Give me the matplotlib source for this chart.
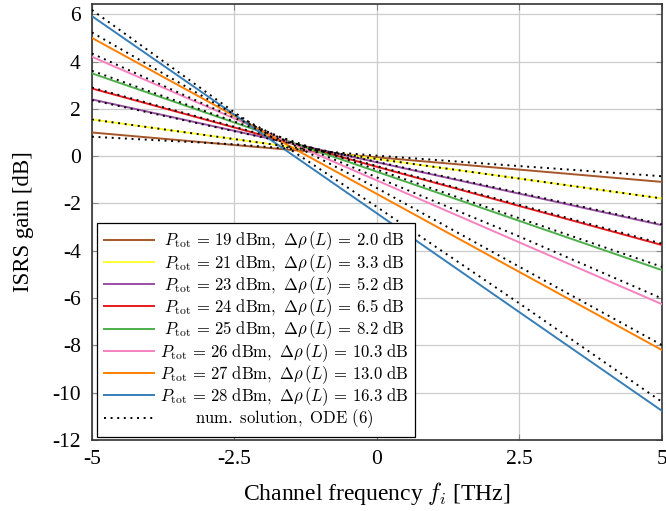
import matplotlib
matplotlib.use('Agg')
import matplotlib.pyplot as plt
import matplotlib as mpl

mpl.rcParams['font.family'] = 'serif'
mpl.rcParams['font.serif'] = ['Liberation Serif', 'DejaVu Serif']
mpl.rcParams['mathtext.fontset'] = 'cm'
mpl.rcParams['axes.unicode_minus'] = False

# channel frequency [THz]
freq = [-5, -2.5, 0, 2.5, 5]

# total launch power [dBm] and power tilt [dB] per curve
p_tot = [19, 21, 23, 24, 25, 26, 27, 28]
delta_rho = ['2.0', '3.3', '5.2', '6.5', '8.2', '10.3', '13.0', '16.3']

# ISRS gain [dB], closed-form model (read at freq points)
gain_19 = [1.00, 0.47, -0.05, -0.57, -1.09]
gain_21 = [1.55, 0.72, -0.12, -0.95, -1.79]
gain_23 = [2.40, 1.07, -0.26, -1.59, -2.92]
gain_24 = [2.86, 1.21, -0.45, -2.11, -3.76]
gain_25 = [3.50, 1.42, -0.66, -2.74, -4.82]
gain_26 = [4.20, 1.59, -1.03, -3.65, -6.26]
gain_27 = [5.00, 1.70, -1.60, -4.90, -8.20]
gain_28 = [5.92, 1.75, -2.42, -6.60, -10.77]

# ISRS gain [dB], numerical ODE solution
ode_19 = [0.82, 0.50, 0.02, -0.42, -0.85]
ode_21 = [1.55, 0.72, -0.12, -0.95, -1.79]
ode_23 = [2.37, 1.05, -0.24, -1.55, -2.88]
ode_24 = [2.90, 1.24, -0.42, -2.06, -3.70]
ode_25 = [3.61, 1.46, -0.57, -2.63, -4.68]
ode_26 = [4.34, 1.62, -0.90, -3.40, -6.02]
ode_27 = [5.23, 1.76, -1.35, -4.68, -7.99]
ode_28 = [6.18, 1.85, -2.15, -6.23, -10.39]

gains = [gain_19, gain_21, gain_23, gain_24, gain_25, gain_26, gain_27, gain_28]
odes = [ode_19, ode_21, ode_23, ode_24, ode_25, ode_26, ode_27, ode_28]

xtick_vals = [-5, -2.5, 0, 2.5, 5]
xtick_labels = ['-5', '-2.5', '0', '2.5', '5']
ytick_vals = [-12, -10, -8, -6, -4, -2, 0, 2, 4, 6]

colors = ['#a65628', '#ffff33', '#984ea3', '#e41a1c',
          '#4daf4a', '#f781bf', '#ff7f00', '#377eb8']

fig = plt.figure(figsize=(6.66, 5.11), dpi=100)
ax = fig.add_axes([0.138, 0.139, 0.856, 0.854])

for g, p, d, c in zip(gains, p_tot, delta_rho, colors):
    lab = (r'$P_{\mathrm{tot}}\, =\, %d\ \mathrm{dBm},\ \Delta\rho\,(L)\, =\, %s\ \mathrm{dB}$'
           % (p, d))
    ax.plot(freq, g, color=c, lw=1.4, label=lab, zorder=3)
for k, o in enumerate(odes):
    ax.plot(freq, o, color='black', lw=1.4, linestyle=(0, (1, 2.4)), zorder=4,
            label=r'$\mathrm{num.\ solution,\ ODE\ (6)}$' if k == 0 else None)

ax.set_xlim(-5, 5)
ax.set_ylim(-12, 6.45)
ax.set_xticks(xtick_vals)
ax.set_xticklabels(xtick_labels)
ax.set_yticks(ytick_vals)
ax.set_yticklabels([str(v) for v in ytick_vals])
ax.grid(True, color='#cccccc', lw=0.9)
ax.set_axisbelow(True)
ax.tick_params(axis='both', which='major', direction='in', length=4,
               color='#888888', top=True, right=True, labelsize=15.5)
ax.tick_params(axis='x', pad=7)
ax.tick_params(axis='y', pad=8)
for s in ax.spines.values():
    s.set_color('#333333')
    s.set_linewidth(1.2)

ax.set_xlabel(r'Channel frequency $f_i$ [THz]', fontsize=17, labelpad=8)
ax.set_ylabel('ISRS gain [dB]', fontsize=16.5, labelpad=13)

leg = ax.legend(loc='lower left', bbox_to_anchor=(0.009, 0.007), borderaxespad=0,
                fontsize=12, handlelength=3.0, handletextpad=0.35,
                labelspacing=-0.03, borderpad=0.4, fancybox=False,
                framealpha=1, edgecolor='black')
leg.get_frame().set_linewidth(0.9)

# centre the legend texts like the original
fig.canvas.draw()
renderer = fig.canvas.get_renderer()
texts = leg.get_texts()
widths = [t.get_window_extent(renderer).width for t in texts]
wmax = max(widths)
for t, w in zip(texts, widths):
    t.set_position(((wmax - w) / 2, 0))

fig.savefig('out.png', dpi=100, facecolor='w')
